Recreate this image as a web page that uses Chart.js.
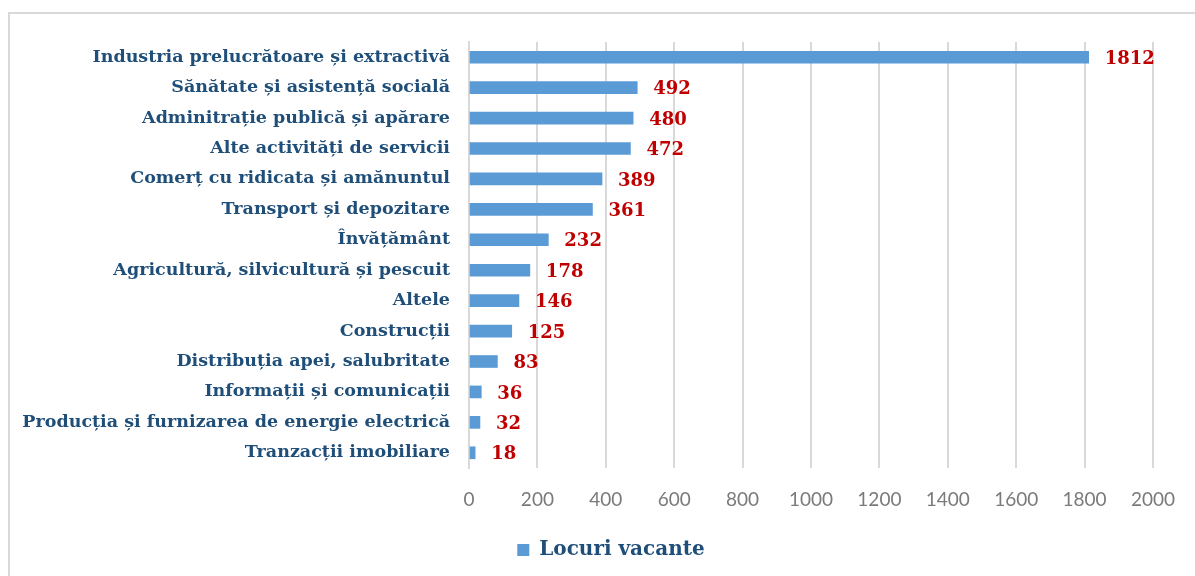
<!DOCTYPE html>
<html>
<head>
<meta charset="utf-8">
<script src="https://cdn.jsdelivr.net/npm/chart.js@4"></script>
<style>
  html, body { margin: 0; padding: 0; background: #fff; overflow: hidden; }
  #frame { position: absolute; left: 8px; top: 12px; width: 1300px; height: 700px; border: 2px solid #d9d9d9; box-sizing: border-box; }
  #wrap { position: absolute; left: 0; top: 0; width: 1195px; height: 576px; }
</style>
</head>
<body>
<div id="frame"></div>
<div id="wrap"><canvas id="vacancies"></canvas></div>
<script>
const sectors = [
    'Industria prelucrătoare și extractivă',
    'Sănătate și asistență socială',
    'Adminitrație publică și apărare',
    'Alte activități de servicii',
    'Comerț cu ridicata și amănuntul',
    'Transport și depozitare',
    'Învățământ',
    'Agricultură, silvicultură și pescuit',
    'Altele',
    'Construcții',
    'Distribuția apei, salubritate',
    'Informații și comunicații',
    'Producția și furnizarea de energie electrică',
    'Tranzacții imobiliare'
];
const vacancies = [1812, 492, 480, 472, 389, 361, 232, 178, 146, 125, 83, 36, 32, 18];
const xTicks = [0, 200, 400, 600, 800, 1000, 1200, 1400, 1600, 1800, 2000];

const serif = "'DejaVu Serif', serif";

// value labels drawn right of each bar
const valueLabels = {
    id: 'valueLabels',
    afterUpdate(chart) {
        // legend sits a bit right of the canvas centre in the original
        chart.legend.left += 34;
        chart.legend.right += 34;
    },
    afterDatasetsDraw(chart) {
        const ctx = chart.ctx;
        const meta = chart.getDatasetMeta(0);
        ctx.save();
        ctx.font = 'bold 18px ' + serif;
        ctx.fillStyle = '#c00000';
        ctx.textAlign = 'left';
        ctx.textBaseline = 'middle';
        meta.data.forEach((bar, i) => {
            ctx.fillText(String(vacancies[i]), bar.x + 16, bar.y + 2);
        });
        ctx.restore();
    }
};

const ctx = document.getElementById('vacancies').getContext('2d');

const myChart = new Chart(ctx, {
    type: 'bar',
    data: {
        labels: sectors,
        datasets: [
            {
                label: 'Locuri vacante',
                data: vacancies,
                backgroundColor: '#5b9bd5',
                borderWidth: 0,
                barThickness: 12,
            },
        ],
    },
    options: {
        indexAxis: 'y',
        responsive: true,
        maintainAspectRatio: false,
        animation: false,
        layout: {
            padding: { top: 42, right: 41, bottom: 6, left: 0 }
        },
        plugins: {
            tooltip: { enabled: false },
            legend: {
                position: 'bottom',
                labels: {
                    color: '#1f4e79',
                    boxWidth: 12,
                    boxHeight: 12,
                    padding: 14,
                    font: { family: serif, size: 20, weight: 'bold' }
                }
            }
        },
        scales: {
            x: {
                min: 0,
                max: 2000,
                afterBuildTicks: (scale) => { scale.ticks = xTicks.map(v => ({ value: v })); },
                afterFit: (scale) => { scale.height = 58; },
                ticks: {
                    color: '#7a7a7a',
                    padding: 20,
                    callback: (v) => String(v),
                    font: { family: 'Lato', size: 19 }
                },
                grid: {
                    color: '#d9d9d9',
                    lineWidth: 2,
                    drawTicks: false,
                },
                border: { display: false },
            },
            y: {
                afterFit: (scale) => { scale.width = 469; },
                ticks: {
                    color: '#1f4e79',
                    padding: 11,
                    font: { family: serif, size: 17.5, weight: 'bold' }
                },
                grid: { display: false },
                border: { display: true, color: '#d9d9d9', width: 2 },
            },
        },
    },
    plugins: [valueLabels],
});
</script>
</body>
</html>
